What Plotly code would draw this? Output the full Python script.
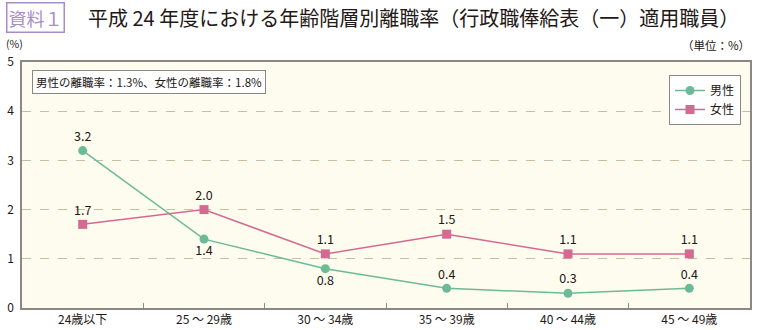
import plotly.graph_objects as go

# 年齢階層と離職率（%）
categories = ["24歳以下", "25 ～ 29歳", "30 ～ 34歳", "35 ～ 39歳", "40 ～ 44歳", "45 ～ 49歳"]
male_rate = [3.2, 1.4, 0.8, 0.4, 0.3, 0.4]
female_rate = [1.7, 2.0, 1.1, 1.5, 1.1, 1.1]
male_label_pos = ["top center", "bottom center", "bottom center", "top center", "top center", "top center"]
female_label_pos = ["top center"] * 6
y_ticks = [0, 1, 2, 3, 4, 5]

FONT = "Noto Sans CJK JP"
GREEN = "#6cbb98"
PINK = "#d26a91"
TEXT = "#231815"
AXIS = "#8c8782"

W, H = 757, 330
L, R, T, B = 22, 7, 62, 22
pw, ph = W - L - R, H - T - B


def px(x):
    return (x - L) / pw


def py(y):
    return (H - B - y) / ph


fig = go.Figure()
fig.add_trace(go.Scatter(
    x=categories, y=male_rate, name="男性", mode="lines+markers+text",
    line=dict(color=GREEN, width=1.5),
    marker=dict(symbol="circle", size=9, color=GREEN),
    text=[f"{v:.1f}" for v in male_rate], textposition=male_label_pos,
    textfont=dict(family=FONT, size=12.5, color=TEXT),
))
fig.add_trace(go.Scatter(
    x=categories, y=female_rate, name="女性", mode="lines+markers+text",
    line=dict(color=PINK, width=1.5),
    marker=dict(symbol="square", size=9, color=PINK),
    text=[f"{v:.1f}" for v in female_rate], textposition=female_label_pos,
    textfont=dict(family=FONT, size=12.5, color=TEXT),
))

fig.update_layout(
    width=W, height=H,
    margin=dict(l=L, r=R, t=T, b=B, autoexpand=False),
    paper_bgcolor="white",
    plot_bgcolor="#fefcee",
    font=dict(family=FONT, size=12, color=TEXT),
    showlegend=True,
    legend=dict(
        x=px(669), y=py(75), xanchor="left", yanchor="top",
        bgcolor="white", bordercolor="#8c8782", borderwidth=1,
        font=dict(family=FONT, size=12, color=TEXT),
        itemwidth=30, tracegroupgap=2,
    ),
    xaxis=dict(
        type="category", range=[-0.5, 5.5], automargin=False,
        showline=True, linecolor=AXIS, linewidth=1.5, mirror=True,
        ticks="inside", tickson="boundaries", ticklen=5, tickcolor=AXIS,
        showgrid=False, tickfont=dict(family=FONT, size=12, color=TEXT),
        fixedrange=True,
    ),
    yaxis=dict(
        range=[0, 5], tickvals=y_ticks, automargin=False,
        showline=True, linecolor=AXIS, linewidth=1.5, mirror=True,
        ticks="", showgrid=True, gridcolor="#cbbd9f", griddash="dash", gridwidth=1,
        zeroline=False, tickfont=dict(family=FONT, size=12, color=TEXT),
        ticklabelstandoff=4,
    ),
    annotations=[
        dict(text="資料１", xref="paper", yref="paper", x=px(6), y=py(18),
             xanchor="left", yanchor="middle", showarrow=False,
             font=dict(family=FONT, size=18, color="#a88dc9"),
             bordercolor="#a88dc9", borderwidth=1.5, borderpad=1, bgcolor="white"),
        dict(text="平成 24 年度における年齢階層別離職率（行政職俸給表（一）適用職員）",
             xref="paper", yref="paper", x=px(86), y=py(18),
             xanchor="left", yanchor="middle", showarrow=False,
             font=dict(family=FONT, size=20, color=TEXT)),
        dict(text="(%)", xref="paper", yref="paper", x=px(4), y=py(44),
             xanchor="left", yanchor="middle", showarrow=False,
             font=dict(family=FONT, size=10.5, color=TEXT)),
        dict(text="（単位：%）", xref="paper", yref="paper", x=px(752), y=py(45),
             xanchor="right", yanchor="middle", showarrow=False,
             font=dict(family=FONT, size=11.5, color=TEXT)),
        dict(text="男性の離職率：1.3%、女性の離職率：1.8%", xref="paper", yref="paper",
             x=px(32), y=py(70), xanchor="left", yanchor="top", showarrow=False,
             font=dict(family=FONT, size=11.5, color=TEXT),
             bordercolor="#8c8782", borderwidth=1, borderpad=3, bgcolor="white"),
    ],
)

fig.write_html("out.html")
